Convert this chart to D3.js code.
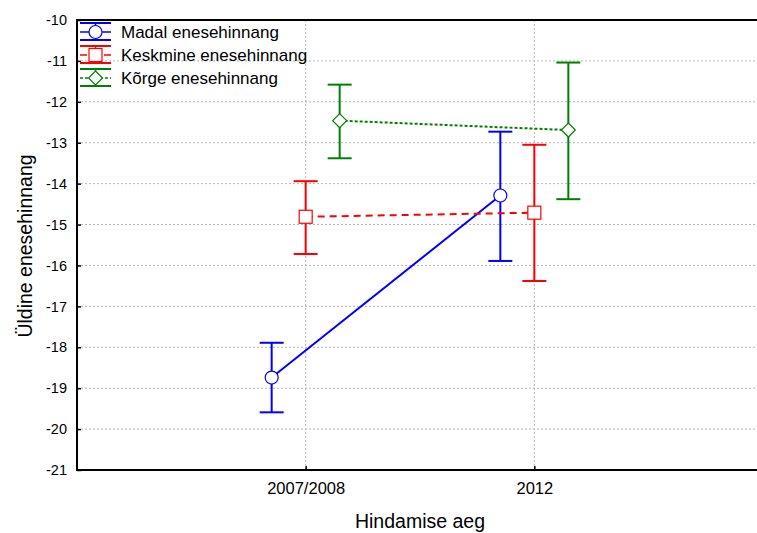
<!DOCTYPE html>
<html><head><meta charset="utf-8">
<script src="https://cdn.jsdelivr.net/npm/d3@7/dist/d3.min.js"></script>
<style>body{margin:0;background:#fff}svg{display:block;font-family:"Liberation Sans",Arial,sans-serif}</style>
</head><body>
<svg id="c" width="757" height="533"></svg>
<script>
const categories = ["2007/2008", "2012"];
const seriesNames = ["Madal enesehinnang", "Keskmine enesehinnang", "Kõrge enesehinnang"];
const means  = [[-18.74, -14.29], [-14.81, -14.71], [-12.46, -12.69]];
const upper  = [[-17.89, -12.73], [-13.94, -13.05], [-11.58, -11.04]];
const lower  = [[-19.59, -15.89], [-15.72, -16.38], [-13.38, -14.38]];
const yTicks = [-10, -11, -12, -13, -14, -15, -16, -17, -18, -19, -20, -21];

const colors = ["#0000ff", "#ff0000", "#008000"];
const dashes = [null, "7,5", "3,2"];
const markers = ["circle", "square", "diamond"];
const offsets = [-34, 0, 34];

const svg = d3.select("#c");
const L = 77, R = 763, T = 20, B = 470;
const y = d3.scaleLinear().domain([-21, -10]).range([B, T]);
const x = d3.scalePoint().domain(["", ...categories, " "]).range([L, R]);

// grid
const g = svg.append("g");
g.selectAll(".hg").data(yTicks.filter(v => v > -21 && v < -10)).join("line")
  .attr("x1", L).attr("x2", R).attr("y1", d => y(d)).attr("y2", d => y(d))
  .attr("stroke", "#b4b4b4").attr("stroke-width", 1).attr("stroke-dasharray", "2,2");
g.selectAll(".vg").data(categories).join("line")
  .attr("x1", d => x(d)).attr("x2", d => x(d)).attr("y1", T).attr("y2", B)
  .attr("stroke", "#b4b4b4").attr("stroke-width", 1).attr("stroke-dasharray", "2,2");

// axes
const yAxis = d3.axisLeft(y).tickValues(yTicks).tickSize(-4).tickPadding(10).tickFormat(d => String(d));
const ya = svg.append("g").attr("transform", `translate(${L},0)`).call(yAxis);
ya.select(".domain").remove();
ya.selectAll("text").attr("font-size", 14.5).attr("fill", "#000");
ya.selectAll(".tick line").attr("stroke", "#000").attr("stroke-width", 1.5);

const xAxis = d3.axisBottom(x).tickValues(categories).tickSize(-4).tickPadding(12);
const xa = svg.append("g").attr("transform", `translate(0,${B})`).call(xAxis);
xa.select(".domain").remove();
xa.selectAll("text").attr("font-size", 16.5).attr("fill", "#000");
xa.selectAll(".tick line").attr("stroke", "#000").attr("stroke-width", 1.5);

svg.append("path").attr("d", `M${R},${T}H${L}V${B}H${R}`).attr("fill", "none")
  .attr("stroke", "#000").attr("stroke-width", 2);

// series
function drawMarker(sel, type, cx, cy, color) {
  if (type === "circle") sel.append("circle").attr("cx", cx).attr("cy", cy).attr("r", 6.5)
    .attr("fill", "#fff").attr("stroke", color).attr("stroke-width", 1.2);
  else if (type === "square") sel.append("rect").attr("x", cx - 6.5).attr("y", cy - 6.5).attr("width", 13).attr("height", 13)
    .attr("fill", "#fff").attr("stroke", color).attr("stroke-width", 1.2);
  else sel.append("path").attr("d", `M${cx},${cy-7}L${cx+7},${cy}L${cx},${cy+7}L${cx-7},${cy}Z`)
    .attr("fill", "#fff").attr("stroke", color).attr("stroke-width", 1.2);
}

seriesNames.forEach((name, i) => {
  const sg = svg.append("g");
  const pts = categories.map((c, j) => ({ x: x(c) + offsets[i], m: means[i][j], u: upper[i][j], l: lower[i][j] }));
  sg.append("path").attr("d", d3.line().x(d => d.x).y(d => y(d.m))(pts))
    .attr("fill", "none").attr("stroke", colors[i]).attr("stroke-width", 2)
    .attr("stroke-dasharray", dashes[i]);
  pts.forEach(p => {
    sg.append("line").attr("x1", p.x).attr("x2", p.x).attr("y1", y(p.u)).attr("y2", y(p.l))
      .attr("stroke", colors[i]).attr("stroke-width", 2);
    [p.u, p.l].forEach(v => sg.append("line").attr("x1", p.x - 12).attr("x2", p.x + 12)
      .attr("y1", y(v)).attr("y2", y(v)).attr("stroke", colors[i]).attr("stroke-width", 2));
    drawMarker(sg, markers[i], p.x, y(p.m), colors[i]);
  });
});

// legend
const legY = [32, 55, 78];
seriesNames.forEach((name, i) => {
  const lg = svg.append("g");
  const cy = legY[i], x0 = 80, x1 = 111, cx = 95.5;
  [cy - 9, cy + 8].forEach(v => lg.append("line").attr("x1", x0).attr("x2", x1).attr("y1", v).attr("y2", v)
    .attr("stroke", colors[i]).attr("stroke-width", 2));
  lg.append("line").attr("x1", cx).attr("x2", cx).attr("y1", cy - 9).attr("y2", cy + 8)
    .attr("stroke", colors[i]).attr("stroke-width", 1.5);
  lg.append("line").attr("x1", x0).attr("x2", x1).attr("y1", cy).attr("y2", cy)
    .attr("stroke", colors[i]).attr("stroke-width", 1.5).attr("stroke-dasharray", dashes[i]);
  drawMarker(lg, markers[i], cx, cy, colors[i]);
  lg.append("text").attr("x", 121).attr("y", cy + 6).attr("font-size", 17).text(name);
});

// axis titles
svg.append("text").attr("x", 420).attr("y", 528).attr("text-anchor", "middle").attr("font-size", 19.5).text("Hindamise aeg");
svg.append("text").attr("transform", "translate(32,246) rotate(-90)").attr("text-anchor", "middle")
  .attr("font-size", 19.5).text("Üldine enesehinnang");
</script>
</body></html>
